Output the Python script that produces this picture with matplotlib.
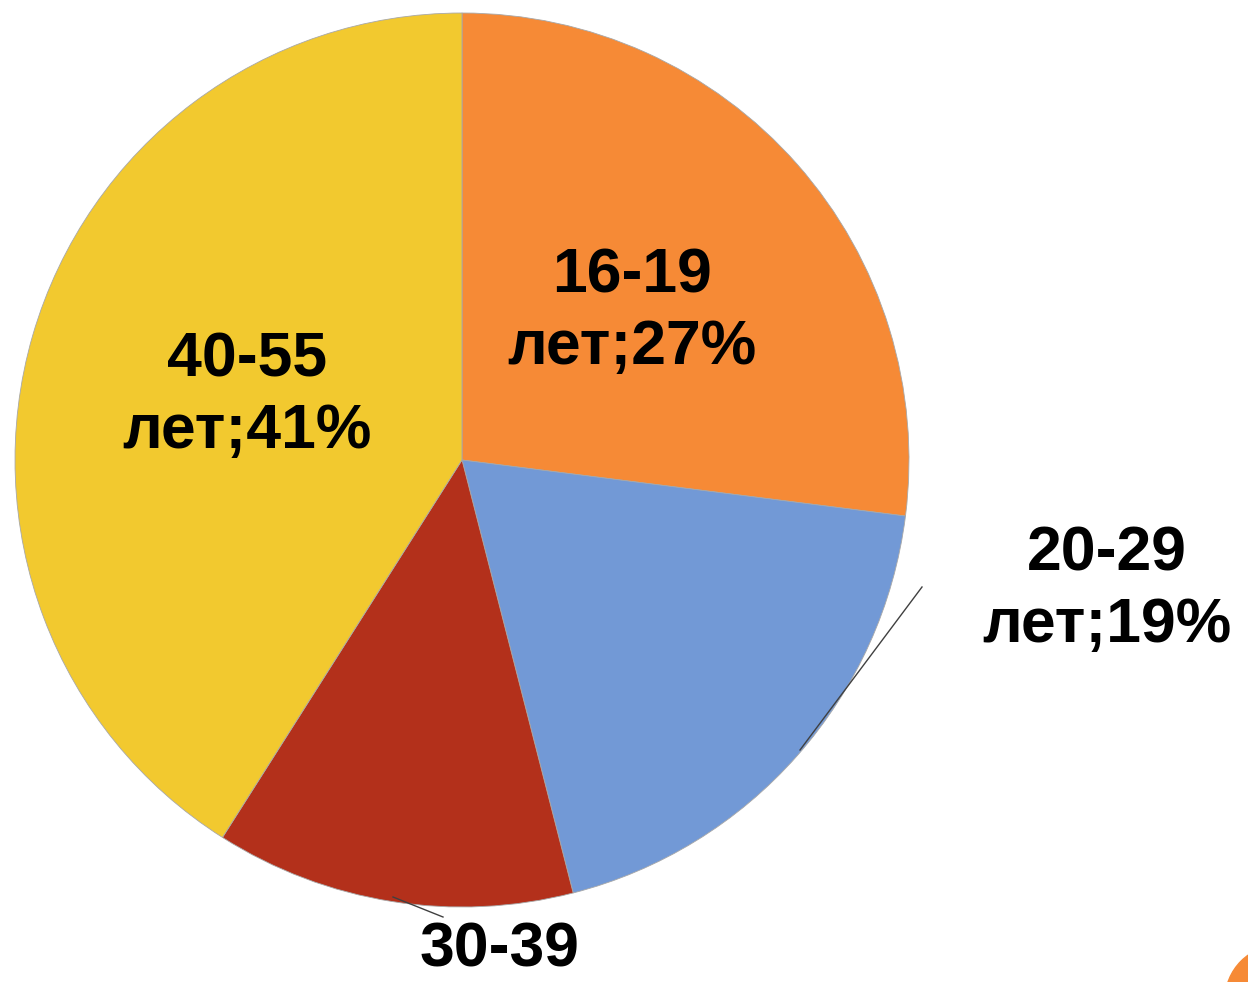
import matplotlib.pyplot as plt
import matplotlib.patches as mpatches
import matplotlib.transforms as mtransforms

# Данные
groups = ["16-19", "20-29", "30-39", "40-55"]
shares = [27, 19, 13, 41]
colors = ["#F68A36", "#7299D6", "#B3301B", "#F2C92F"]

plt.rcParams["font.family"] = ["Liberation Sans", "DejaVu Sans"]

W, H = 1248, 982
fig = plt.figure(figsize=(W / 100, H / 100), dpi=100)

# pie centre (462, 460) px, radius 447 px
cx, cy, r = 462, 460, 447
ax = fig.add_axes([(cx - r) / W, (H - cy - r) / H, 2 * r / W, 2 * r / H])
ax.pie(shares, colors=colors, startangle=90, counterclock=False, radius=1,
       wedgeprops=dict(edgecolor="#a8a8a8", linewidth=0.6))
ax.set_xlim(-1, 1)
ax.set_ylim(-1, 1)
ax.axis("off")


def px(x, y):
    return (x - cx) / r, (cy - y) / r


# Подписи (у 30-39 в кадре видна только первая строка)
label_pos = [(632, 312), (1107, 590), (500, 950), (247, 396)]
for g, s, (x, y) in zip(groups, shares, label_pos):
    lx, ly = px(x, y)
    txt = g if g == "30-39" else f"{g}\nлет;{s}%"
    ax.text(lx, ly, txt, ha="center", va="center",
            fontsize=45, fontweight="bold", linespacing=1.27, clip_on=False)

# Линии-выноски
for (x0, y0), (x1, y1) in [((922, 587), (800, 750)), ((443, 917), (393, 897))]:
    a, b = px(x0, y0)
    c, d = px(x1, y1)
    ax.plot([a, c], [b, d], color="#404040", lw=1, clip_on=False)

# Декоративный круг в углу
fig.add_artist(mpatches.Circle((1280, -18), 55, color="#F68A36",
                               transform=mtransforms.IdentityTransform()))

plt.savefig("out.png", dpi=100)
